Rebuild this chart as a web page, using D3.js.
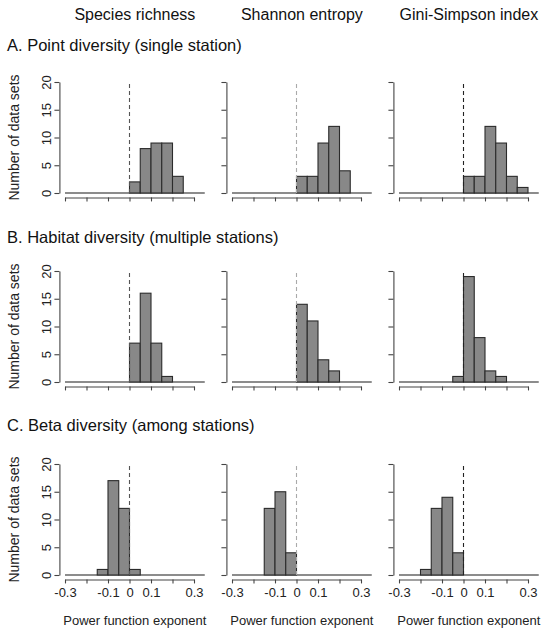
<!DOCTYPE html>
<html>
<head>
<meta charset="utf-8">
<script src="https://cdn.jsdelivr.net/npm/d3@7"></script>
<style>
    body { margin: 0; background: #fff; }
    svg { display: block; font-family: "Liberation Sans", Arial, sans-serif; }
</style>
</head>
<body>
<svg id="chart" width="541" height="631"></svg>
<script>
// histogram breaks (bin edges), shared by every panel
const breaks = [-0.3, -0.25, -0.2, -0.15, -0.1, -0.05, 0, 0.05, 0.1, 0.15, 0.2, 0.25, 0.3, 0.35];

const columnTitles = ['Species richness', 'Shannon entropy', 'Gini-Simpson index'];
const rowTitles = [
    'A. Point diversity (single station)',
    'B. Habitat diversity (multiple stations)',
    'C. Beta diversity (among stations)'
];

// counts per bin, one array per panel
const pointRichness = [0, 0, 0, 0, 0, 0, 2, 8, 9, 9, 3, 0, 0];
const pointShannon  = [0, 0, 0, 0, 0, 0, 3, 3, 9, 12, 4, 0, 0];
const pointGini     = [0, 0, 0, 0, 0, 0, 3, 3, 12, 9, 3, 1, 0];

const habitatRichness = [0, 0, 0, 0, 0, 0, 7, 16, 7, 1, 0, 0, 0];
const habitatShannon  = [0, 0, 0, 0, 0, 0, 14, 11, 4, 2, 0, 0, 0];
const habitatGini     = [0, 0, 0, 0, 0, 1, 19, 8, 2, 1, 0, 0, 0];

const betaRichness = [0, 0, 0, 1, 17, 12, 1, 0, 0, 0, 0, 0, 0];
const betaShannon  = [0, 0, 0, 12, 15, 4, 0, 0, 0, 0, 0, 0, 0];
const betaGini     = [0, 0, 1, 12, 14, 4, 0, 0, 0, 0, 0, 0, 0];

const yTicks = [0, 5, 10, 15, 20];
const xTicks = [-0.3, -0.2, -0.1, 0, 0.1, 0.2, 0.3];
const xTickLabels = ['-0.3', '', '-0.1', '0', '0.1', '', '0.3'];

const panelCounts = [
    [pointRichness, pointShannon, pointGini],
    [habitatRichness, habitatShannon, habitatGini],
    [betaRichness, betaShannon, betaGini]
];

// layout
const colX = [65, 232, 399];     // pixel of x = -0.3 in each column
const rowY = [193, 382, 575];    // pixel of count = 0 in each row
const xSpan = 129;               // pixels for -0.3 .. 0.3
const ySpan = 111;               // pixels for 0 .. 20
const refColors = ['#555', '#aaa', '#222'];

const svg = d3.select('#chart');

function drawPanel(row, col) {
    const counts = panelCounts[row][col];
    const x = d3.scaleLinear().domain([-0.3, 0.3]).range([colX[col], colX[col] + xSpan]);
    const y = d3.scaleLinear().domain([0, 20]).range([rowY[row], rowY[row] - ySpan]);

    const g = svg.append('g');

    // plot region edges as in R (4% extension)
    const xLeft = x(-0.326);
    const xMid = x(0.025);
    const yBottom = y(-0.8);

    // y axis, labels turned like R's default las = 0
    const yAxis = d3.axisLeft(y).tickValues(yTicks).tickSize(5).tickSizeOuter(0)
        .tickFormat(d => col === 0 ? d : '');
    const ya = g.append('g')
        .attr('transform', `translate(${xLeft},0)`)
        .call(yAxis);
    ya.selectAll('text')
        .attr('x', 0)
        .attr('y', 0)
        .attr('dy', '0.35em')
        .attr('transform', 'translate(-13,0) rotate(-90)')
        .attr('text-anchor', 'middle')
        .style('font-size', '13px')
        .style('fill', '#222');

    // x axis
    const xAxis = d3.axisBottom(x).tickValues(xTicks).tickSize(4).tickSizeOuter(0)
        .tickFormat((d, i) => row === 2 ? xTickLabels[i] : '');
    const xa = g.append('g')
        .attr('transform', `translate(0,${yBottom})`)
        .call(xAxis);
    xa.selectAll('text')
        .attr('y', 8)
        .style('font-size', '13px')
        .style('fill', '#222');

    g.selectAll('.domain, .tick line').attr('stroke', '#444').attr('stroke-width', 1.1);

    // baseline of empty bins
    g.append('line')
        .attr('x1', x(breaks[0])).attr('x2', x(breaks[breaks.length - 1]))
        .attr('y1', y(0)).attr('y2', y(0))
        .attr('stroke', '#666').attr('stroke-width', 1.4);

    // bars
    const bins = counts.map((c, i) => ({ x0: breaks[i], x1: breaks[i + 1], n: c }))
        .filter(d => d.n > 0);
    g.selectAll('rect').data(bins).enter().append('rect')
        .attr('x', d => x(d.x0))
        .attr('width', d => x(d.x1) - x(d.x0))
        .attr('y', d => y(d.n))
        .attr('height', d => y(0) - y(d.n))
        .attr('fill', '#888')
        .attr('stroke', '#2b2b2b')
        .attr('stroke-width', 1.1);

    // reference line at zero
    g.append('line')
        .attr('x1', x(0)).attr('x2', x(0))
        .attr('y1', y(0)).attr('y2', y(20))
        .attr('stroke', refColors[col])
        .attr('stroke-width', 1.1)
        .attr('stroke-dasharray', '4,3');

    if (row === 2) {
        g.append('text')
            .attr('x', xMid).attr('y', 624.5)
            .attr('text-anchor', 'middle')
            .style('font-size', '13px')
            .style('fill', '#222')
            .text('Power function exponent');
    }
    if (col === 0) {
        g.append('text')
            .attr('transform', `translate(14,${(y(0) + y(20)) / 2}) rotate(-90)`)
            .attr('text-anchor', 'middle')
            .attr('dy', '0.35em')
            .style('font-size', '14px')
            .style('fill', '#222')
            .text('Number of data sets');
    }
    if (row === 0) {
        svg.append('text')
            .attr('x', xMid).attr('y', 20)
            .attr('text-anchor', 'middle')
            .style('font-size', '16px')
            .style('fill', '#111')
            .text(columnTitles[col]);
    }
}

const rowTitleY = [51, 243, 431];
rowTitles.forEach((t, i) => {
    svg.append('text')
        .attr('x', 7).attr('y', rowTitleY[i])
        .style('font-size', '16.5px')
        .style('fill', '#111')
        .text(t);
});

for (let r = 0; r < 3; r++) {
    for (let c = 0; c < 3; c++) {
        drawPanel(r, c);
    }
}
</script>
</body>
</html>
